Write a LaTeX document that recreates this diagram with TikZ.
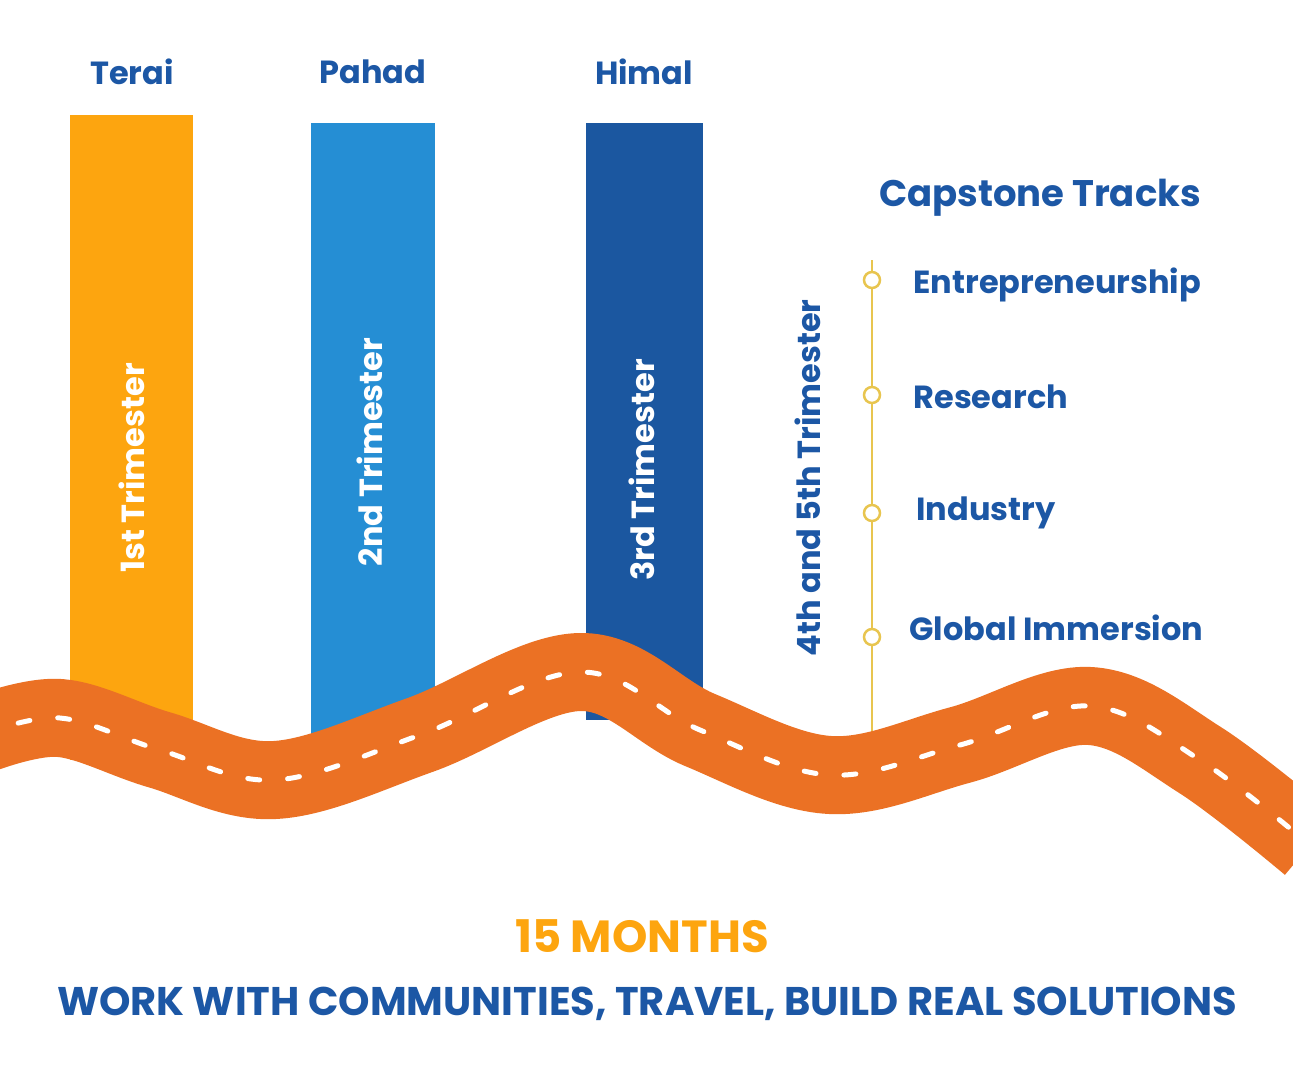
\documentclass[tikz,border=0pt]{standalone}
\usepackage{fontspec}
\setmainfont{Poppins}[BoldFont=* Bold]
\definecolor{cOr}{HTML}{FDA50F}
\definecolor{cBl}{HTML}{258ED4}
\definecolor{cDb}{HTML}{1B57A0}
\definecolor{cRd}{HTML}{EB7124}
\definecolor{cTx}{HTML}{1C57A5}
\definecolor{cYl}{HTML}{E8C54F}
\tikzset{
 lbl/.style={font=\bfseries\fontsize{32}{36}\selectfont,text=cTx},
 vtx/.style={font=\bfseries\fontsize{32}{36}\selectfont,text=white,rotate=90},
 trk/.style={font=\bfseries\fontsize{32}{36}\selectfont,text=cTx,anchor=west},
 dot/.style={circle,draw=cYl,line width=2.5pt,fill=white,minimum size=16pt,inner sep=0pt}
}
\begin{document}
\begin{tikzpicture}[x=1pt,y=-1pt]
\useasboundingbox (0,0) rectangle (1293,1084);
\fill[cOr] (70,115) rectangle (193,760);
\fill[cBl] (311,123) rectangle (435,770);
\fill[cDb] (586,123) rectangle (703,720);
\node[lbl] (t1) at (132,72) {Terai};
\node[lbl] (t2) at (373,72) {Pahad};
\node[lbl] (t3) at (644,72) {Himal};
\node[vtx] (v1) at (132,468) {1st\ Trimester};
\node[vtx] (v2) at (370,452) {2nd\ Trimester};
\node[vtx] (v3) at (642,470) {3rd Trimester};
\node[vtx,text=cTx] (v4) at (808,478) {4th and 5th Trimester};
\node[font=\bfseries\fontsize{37}{40}\selectfont,text=cTx] (cap) at (1040,198) {Capstone Tracks};
\coordinate (ltop) at (872,260);
\coordinate (lbot) at (872,745);
\draw[cYl,line width=2.5pt] (ltop) -- (lbot);
\node[dot] (d1) at (872,280) {};
\node[dot] (d2) at (872,395) {};
\node[dot] (d3) at (872,513) {};
\node[dot] (d4) at (872,637) {};
\node[trk] (k1) at (910,285) {Entrepreneurship};
\node[trk] (k2) at (910,397) {Research};
\node[trk] (k3) at (913,513) {Industry};
\node[trk] (k4) at (906,628) {Global Immersion};
\def\roadpath{plot[smooth,tension=0.6] coordinates {(-20,735) (60,718) (160,750) (275,780) (420,735) (580,672) (700,730) (830,775) (960,745) (1090,706) (1200,760) (1310,845)}}
\draw[cRd,line width=78pt] \roadpath;
\draw[white,line width=5pt,dash pattern=on 12pt off 28pt,line cap=round] \roadpath;
\node[font=\bfseries\fontsize{45}{50}\selectfont,text=cOr] (m) at (642,936) {15 MONTHS};
\node[font=\bfseries\fontsize{40}{44}\selectfont,text=cTx] (w) at (647,1004) {WORK WITH COMMUNITIES, TRAVEL, BUILD REAL SOLUTIONS};
\end{tikzpicture}
\end{document}
